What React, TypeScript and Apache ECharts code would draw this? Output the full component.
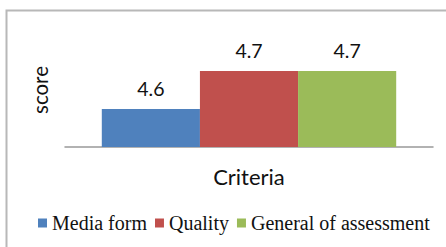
import React, { useEffect, useRef } from "react";
import * as echarts from "echarts";

const categories = ["Criteria"];
const seriesNames = ["Media form", "Quality", "General of assessment"];
const mediaForm = [4.6];
const quality = [4.7];
const generalAssessment = [4.7];
const colors = ["#4F81BD", "#C0504D", "#9BBB59"];

export default function App() {
  const ref = useRef<HTMLDivElement>(null);
  useEffect(() => {
    if (!ref.current) return;
    const chart = echarts.init(ref.current, null, { renderer: "svg" });
    const values = [mediaForm, quality, generalAssessment];
    chart.setOption({
      animation: false,
      backgroundColor: "#fff",
      graphic: [
        {
          type: "rect",
          shape: { x: 6.5, y: 10.5, width: 460, height: 260 },
          style: { fill: "none", stroke: "#b8b8b8", lineWidth: 2 },
          silent: true,
        },
      ],
      grid: { left: 65, right: 13, top: 33, bottom: 100 },
      legend: {
        left: 38,
        top: 213,
        width: 406,
        padding: 0,
        itemWidth: 9,
        itemHeight: 9,
        itemGap: 8,
        icon: "rect",
        textStyle: { fontFamily: "Liberation Serif", fontSize: 20, color: "#111" },
        data: seriesNames,
      },
      xAxis: {
        type: "category",
        data: categories,
        axisLine: { lineStyle: { color: "#999", width: 1.5 } },
        axisTick: { show: false },
        axisLabel: { show: false },
        name: "Criteria",
        nameLocation: "middle",
        nameGap: 18,
        nameTextStyle: { fontFamily: "Lato", fontSize: 22, color: "#111" },
      },
      yAxis: {
        type: "value",
        min: 4.5,
        max: 4.8,
        axisLine: { show: false },
        axisTick: { show: false },
        axisLabel: { show: false },
        splitLine: { show: false },
        name: "score",
        nameLocation: "middle",
        nameGap: 15,
        nameTextStyle: { fontFamily: "Lato", fontSize: 20.5, color: "#111" },
      },
      series: seriesNames.map((name, i) => ({
        name,
        type: "bar",
        data: values[i],
        barGap: "0%",
        barCategoryGap: "20%",
        itemStyle: { color: colors[i] },
        label: {
          show: true,
          position: "top",
          distance: 11,
          formatter: (p: any) => p.value.toFixed(1),
          fontFamily: "Lato",
          fontSize: 19.5,
          color: "#111",
        },
      })),
    });
    return () => chart.dispose();
  }, []);
  return (
    <div
      ref={ref}
      style={{ position: "fixed", left: 0, top: 0, width: 446, height: 247 }}
    />
  );
}
